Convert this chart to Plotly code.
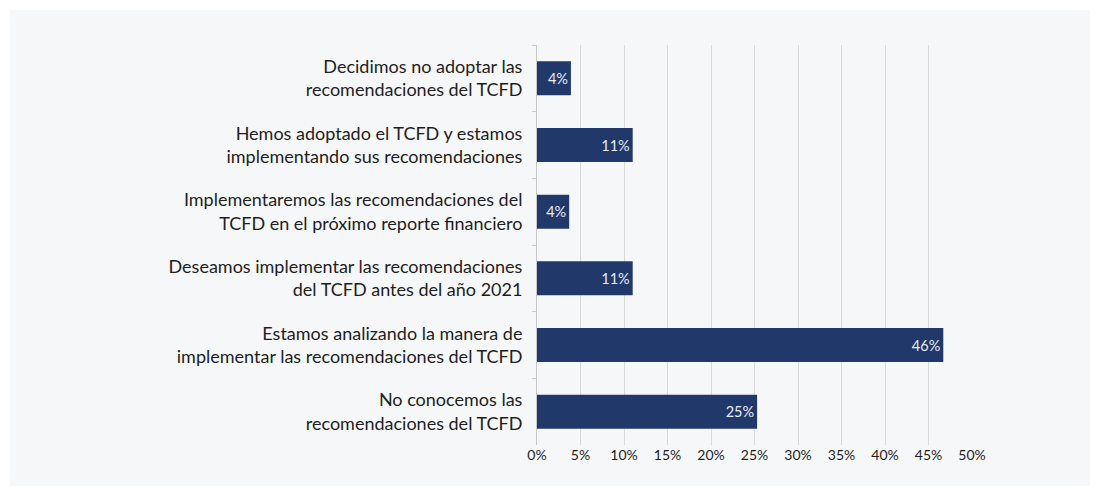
import plotly.graph_objects as go

categories = [
    "Decidimos no adoptar las<br>recomendaciones del TCFD",
    "Hemos adoptado el TCFD y estamos<br>implementando sus recomendaciones",
    "Implementaremos las recomendaciones del<br>TCFD en el próximo reporte financiero",
    "Deseamos implementar las recomendaciones<br>del TCFD antes del año 2021",
    "Estamos analizando la manera de<br>implementar las recomendaciones del TCFD",
    "No conocemos las<br>recomendaciones del TCFD",
]
values = [0.039, 0.110, 0.037, 0.110, 0.467, 0.253]
value_labels = ["4%", "11%", "4%", "11%", "46%", "25%"]
tick_values = [0, 0.05, 0.10, 0.15, 0.20, 0.25, 0.30, 0.35, 0.40, 0.45, 0.50]

BAR = "#21386b"
FONT = "Lato"

fig = go.Figure(
    go.Bar(
        x=values,
        y=categories,
        orientation="h",
        marker=dict(color=BAR, line=dict(width=0)),
        text=value_labels,
        textposition="inside",
        insidetextanchor="end",
        textfont=dict(color="#e9ecf3", size=14.5, family=FONT),
        cliponaxis=False,
        hoverinfo="skip",
    )
)

# page has an 8px body margin, so figure coordinates are offset by 8
OFF = 8
W, H = 1100 - 2 * OFF, 496 - 2 * OFF
L, R, T, B = 537 - OFF, 972 - OFF, 45 - OFF, 445 - OFF

fig.update_layout(
    width=W,
    height=H,
    margin=dict(l=L, r=W - R, t=T, b=H - B, pad=0),
    paper_bgcolor="white",
    plot_bgcolor="rgba(0,0,0,0)",
    bargap=0.49,
    showlegend=False,
    font=dict(family=FONT, color="#1e1e1e"),
    shapes=[
        dict(
            type="rect",
            xref="paper",
            yref="paper",
            x0=(10 - OFF - L) / (R - L),
            x1=(1090 - OFF - L) / (R - L),
            y0=(B - (486 - OFF)) / (B - T),
            y1=(B - (10 - OFF)) / (B - T),
            fillcolor="#f6f7f9",
            line=dict(width=0),
            layer="below",
        )
    ],
)

fig.update_xaxes(
    range=[0, 0.5],
    tickvals=tick_values,
    tickformat=".0%",
    showgrid=True,
    gridcolor="#d9d9d9",
    gridwidth=1,
    zeroline=False,
    showline=False,
    ticks="",
    tickfont=dict(size=14, color="#1e1e1e", family=FONT),
    fixedrange=True,
)

fig.update_yaxes(
    autorange="reversed",
    showline=True,
    linecolor="#c8c8c8",
    linewidth=1,
    ticks="outside",
    tickson="boundaries",
    ticklen=4,
    tickcolor="#c8c8c8",
    showgrid=False,
    tickfont=dict(size=18, color="#1e1e1e", family=FONT),
    ticklabelstandoff=10,
    fixedrange=True,
)

fig.write_html("out.html")
